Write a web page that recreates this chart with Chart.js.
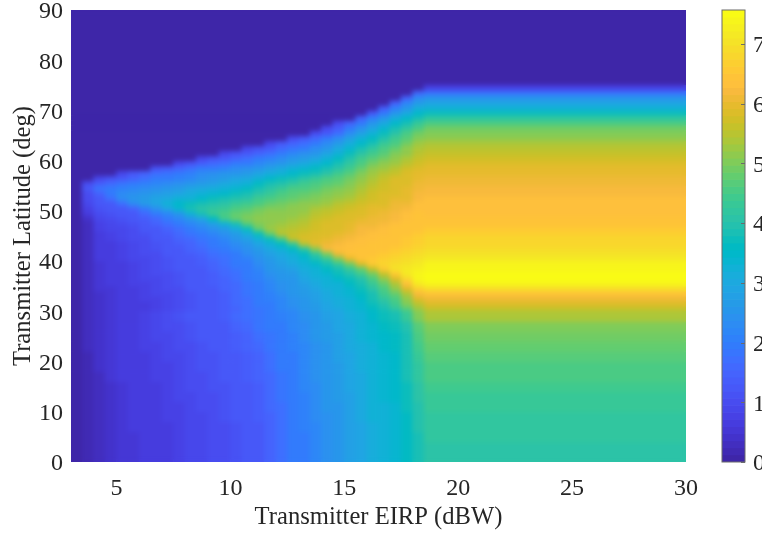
<!DOCTYPE html>
<html>
<head>
<meta charset="utf-8">
<script src="https://cdn.jsdelivr.net/npm/chart.js@4/dist/chart.umd.min.js"></script>
<style>
  body { margin: 0; background: #fff; }
  #wrap { position: relative; width: 762px; height: 533px; overflow: hidden; }
  canvas { position: absolute; top: 0; }
</style>
</head>
<body>
<div id="wrap">
  <canvas id="heat" width="762" height="533" style="left:0"></canvas>
  <canvas id="bar" width="62" height="533" style="left:700px"></canvas>
</div>
<script>
const xTicks = [5, 10, 15, 20, 25, 30];
const yTicks = [0, 10, 20, 30, 40, 50, 60, 70, 80, 90];
const colorbarTicks = [0, 1, 2, 3, 4, 5, 6, 7];
const colorMax = 7.57;

// cell edges in EIRP for the fan part of the map, then one wide plateau cell
const eirpEdges = [3.5,4,4.5,5,5.5,6,6.5,7,7.5,8,8.5,9,9.5,10,10.5,11,11.5,12,12.5,13,13.5,14,14.5,15,15.5,16,16.5,17,17.5,18,18.5];
const eirpMin = 3;
const eirpMax = 30;

// 2 deg rows, latitude 0 to 30
const lowerLats = [0,2,4,6,8,10,12,14,16,18,20,22,24,26,28];
const lowerPlateau = [4.1,4.1,4.15,4.2,4.2,4.3,4.35,4.45,4.55,4.6,4.7,4.75,4.85,5.05,5.35];
const lowerGrid = [
  [.2,.3,.4,.5,.5,.6,.7,.7,.8,.9,.9,1,1,1.1,1.2,1.3,1.5,1.7,1.9,2,2.2,2.4,2.6,2.8,2.9,3.1,3.3,3.4,3.6,3.9],
  [.2,.3,.4,.5,.5,.6,.7,.7,.8,.9,.9,1,1,1.1,1.2,1.3,1.5,1.7,1.9,2,2.2,2.4,2.6,2.8,2.9,3.1,3.3,3.4,3.6,3.9],
  [.2,.3,.4,.5,.5,.6,.7,.7,.8,.9,.9,1,1,1.1,1.2,1.3,1.5,1.7,1.9,2,2.2,2.4,2.6,2.8,2.9,3.1,3.3,3.4,3.6,3.9],
  [.2,.3,.4,.5,.6,.6,.7,.7,.8,.9,.9,1,1,1.1,1.2,1.3,1.5,1.7,1.9,2.1,2.2,2.4,2.6,2.8,2.9,3.1,3.3,3.4,3.6,4],
  [.2,.3,.4,.5,.6,.6,.7,.8,.8,.9,.9,1,1.1,1.2,1.3,1.4,1.5,1.7,1.9,2.1,2.3,2.4,2.6,2.8,3,3.2,3.3,3.4,3.6,4],
  [.2,.3,.4,.5,.6,.7,.7,.8,.8,.9,1,1,1.1,1.2,1.3,1.4,1.6,1.7,1.9,2.1,2.3,2.5,2.6,2.8,3,3.2,3.3,3.4,3.7,4],
  [.2,.3,.4,.5,.6,.7,.7,.8,.9,.9,1,1,1.1,1.2,1.3,1.4,1.6,1.8,2,2.1,2.3,2.5,2.7,2.8,3,3.2,3.4,3.5,3.7,4.1],
  [.2,.3,.4,.5,.6,.7,.7,.8,.9,1,1,1.1,1.1,1.2,1.3,1.4,1.6,1.8,2,2.2,2.3,2.5,2.7,2.9,3,3.2,3.4,3.5,3.7,4.1],
  [.2,.3,.5,.6,.6,.7,.8,.8,.9,1,1,1.1,1.2,1.3,1.4,1.5,1.6,1.8,2,2.2,2.4,2.5,2.7,2.9,3,3.2,3.4,3.5,3.8,4.2],
  [.2,.4,.5,.6,.7,.7,.8,.8,.9,1,1.1,1.1,1.2,1.3,1.4,1.5,1.7,1.9,2,2.2,2.4,2.6,2.7,2.9,3.1,3.3,3.4,3.5,3.8,4.2],
  [.2,.4,.5,.6,.7,.7,.8,.9,.9,1,1.1,1.1,1.2,1.3,1.4,1.5,1.7,1.9,2,2.2,2.4,2.6,2.8,2.9,3.1,3.3,3.4,3.5,3.8,4.3],
  [.3,.4,.5,.6,.7,.8,.8,.9,1,1,1.1,1.2,1.3,1.4,1.5,1.6,1.8,1.9,2.1,2.2,2.4,2.6,2.8,3,3.1,3.3,3.5,3.6,3.9,4.4],
  [.3,.4,.5,.6,.7,.8,.9,.9,1,1.1,1.2,1.2,1.3,1.4,1.5,1.7,1.8,2,2.1,2.3,2.5,2.7,2.8,3,3.2,3.4,3.5,3.6,3.9,4.5],
  [.3,.4,.5,.6,.7,.8,.9,1,1,1.1,1.2,1.3,1.3,1.5,1.6,1.8,1.9,2,2.2,2.3,2.5,2.7,2.9,3,3.2,3.4,3.6,3.7,4,4.7],
  [.3,.4,.5,.6,.7,.8,.9,1,1.1,1.2,1.3,1.3,1.4,1.6,1.7,1.8,1.9,2.1,2.2,2.4,2.6,2.8,2.9,3.1,3.3,3.5,3.7,3.9,4.3,5],
];

// 1 deg rows from latitude 30, rows are right aligned and everything left of a row is zero
const upperLats = [30,31,32,33,34,35,36,37,38,39,40,41,42,43,44,45,46,47,48,49,50,51,52,53,54,55,56,57,58,59,60,61,62,63,64,65,66,67,68,69,70,71,72,73,74];
const upperPlateau = [5.65,5.85,6.1,6.45,6.9,7.4,7.55,7.55,7.45,7.35,7.2,7.05,6.95,6.85,6.75,6.68,6.6,6.5,6.42,6.38,6.35,6.3,6.3,6.25,6.2,6.15,6.1,6,5.95,5.85,5.75,5.65,5.5,5.35,5.2,5.05,4.85,4.55,4.2,3.75,3.3,2.9,2.5,1.8,.8];
const upperGrid = [
  [.3,.4,.5,.6,.6,.7,.8,.9,1,1.1,1.2,1.3,1.4,1.5,1.7,1.8,2,2.2,2.3,2.5,2.7,2.9,3,3.2,3.4,3.6,3.9,4.2,4.7,5.3],
  [.3,.4,.5,.6,.7,.7,.8,.9,1,1.1,1.2,1.3,1.4,1.6,1.7,1.9,2,2.2,2.4,2.6,2.7,2.9,3.1,3.2,3.4,3.7,4,4.4,5,5.5],
  [.3,.4,.5,.6,.7,.8,.8,.9,1,1.1,1.2,1.3,1.4,1.6,1.7,1.9,2.1,2.2,2.4,2.6,2.8,3,3.1,3.3,3.5,3.8,4.2,4.6,5.2,5.8],
  [.3,.4,.5,.6,.7,.8,.9,.9,1,1.1,1.2,1.3,1.4,1.6,1.8,1.9,2.1,2.3,2.5,2.7,2.8,3,3.2,3.4,3.6,3.9,4.4,4.8,5.4,6.2],
  [.3,.5,.5,.6,.7,.8,.9,1,1,1.2,1.3,1.3,1.5,1.6,1.8,2,2.2,2.4,2.5,2.7,2.9,3.1,3.3,3.4,3.7,4.1,4.6,5.1,5.8,6.7],
  [.3,.5,.6,.7,.8,.8,.9,1,1.1,1.2,1.3,1.4,1.5,1.6,1.8,2,2.2,2.4,2.6,2.8,3,3.2,3.3,3.6,3.9,4.3,4.8,5.4,6.3,7.1],
  [.3,.5,.6,.7,.8,.9,.9,1,1.1,1.2,1.3,1.4,1.5,1.7,1.9,2.1,2.3,2.5,2.6,2.9,3.1,3.3,3.5,3.7,4,4.5,5.1,5.9,6.8,7.4],
  [.3,.5,.6,.7,.8,.9,1,1,1.1,1.2,1.3,1.4,1.6,1.7,1.9,2.1,2.4,2.6,2.7,3,3.2,3.4,3.7,4,4.4,4.9,5.6,6.6,7.1,7.4],
  [.3,.5,.6,.7,.8,.9,1,1.1,1.2,1.3,1.3,1.5,1.6,1.8,2,2.2,2.5,2.7,2.8,3.1,3.3,3.6,3.9,4.3,4.8,5.6,6.6,7,7.1,7.3],
  [.3,.5,.6,.7,.8,.9,1,1.1,1.2,1.3,1.4,1.5,1.7,1.9,2,2.3,2.6,2.8,3,3.2,3.5,3.9,4.3,4.9,5.8,6.6,6.8,6.9,7,7.2],
  [.3,.6,.6,.8,.9,.9,1,1.1,1.2,1.3,1.4,1.6,1.7,1.9,2.1,2.4,2.7,2.9,3.1,3.4,3.8,4.3,5,6,6.5,6.6,6.7,6.8,6.9,7.05],
  [.3,.6,.7,.8,.9,1,1,1.2,1.3,1.4,1.5,1.7,1.8,2,2.3,2.5,2.8,3,3.3,3.6,4.2,5,6.1,6.4,6.4,6.5,6.6,6.7,6.8,6.9],
  [.3,.6,.7,.8,.9,1,1.1,1.2,1.3,1.5,1.6,1.8,1.9,2.2,2.4,2.7,3,3.3,3.6,4.2,5.2,6.2,6.3,6.3,6.4,6.4,6.5,6.6,6.7,6.8],
  [.3,.6,.7,.8,.9,1,1.1,1.3,1.4,1.5,1.7,1.9,2.1,2.3,2.6,2.9,3.3,3.6,4.3,5.5,6,6.1,6.2,6.3,6.3,6.4,6.4,6.5,6.6,6.7],
  [.3,.7,.8,.9,1,1,1.2,1.3,1.5,1.6,1.8,2,2.2,2.5,2.8,3.2,3.7,4.6,5.6,5.8,5.9,6,6.1,6.2,6.3,6.3,6.4,6.5,6.6,6.65],
  [.3,.7,.8,.9,1,1.1,1.2,1.4,1.6,1.8,2,2.2,2.4,2.7,3.1,3.7,4.8,5.5,5.6,5.7,5.8,5.9,6,6.1,6.2,6.3,6.3,6.4,6.5,6.6],
  [.3,.8,.9,.9,1,1.2,1.3,1.5,1.7,1.9,2.2,2.4,2.7,3.1,3.7,4.8,5.3,5.4,5.5,5.6,5.7,5.9,5.9,6,6.2,6.2,6.3,6.4,6.4,6.5],
  [.3,.8,.9,1,1.1,1.3,1.5,1.7,1.9,2.2,2.4,2.8,3.2,3.9,4.7,5,5.2,5.3,5.4,5.5,5.7,5.8,5.9,6,6.1,6.1,6.2,6.3,6.4,6.45],
  [.4,.9,1,1.1,1.2,1.4,1.6,1.9,2.2,2.5,2.9,3.6,4.4,4.8,5,5.1,5.2,5.2,5.3,5.4,5.6,5.7,5.8,5.9,6,6.1,6.1,6.2,6.3,6.4],
  [.6,1,1.1,1.2,1.3,1.6,1.9,2.2,2.6,3.2,3.9,4.3,4.6,4.8,4.9,5,5.1,5.1,5.2,5.3,5.5,5.6,5.7,5.8,5.9,6,6.1,6.2,6.3,6.4],
  [.8,1.1,1.2,1.3,1.5,1.9,2.4,2.9,3.4,3.8,4.1,4.2,4.3,4.5,4.7,4.9,5,5,5.1,5.2,5.4,5.5,5.6,5.7,5.8,6,6,6.1,6.2,6.3],
  [.9,1.2,1.3,1.7,2.3,2.7,2.9,3.2,3.5,3.7,3.9,4,4.1,4.3,4.4,4.6,4.8,4.9,5,5.1,5.2,5.3,5.5,5.6,5.7,5.8,5.9,6.1,6.1,6.3],
  [1,1.3,1.7,2.3,2.5,2.7,2.9,3,3.2,3.3,3.5,3.7,3.8,4,4.1,4.4,4.6,4.7,4.8,4.9,5,5.2,5.3,5.4,5.6,5.7,5.8,6,6,6.2],
  [1,1.5,2,2.3,2.4,2.5,2.7,2.8,2.9,3.1,3.2,3.4,3.5,3.7,3.8,4.1,4.3,4.5,4.7,4.8,4.9,5,5.1,5.3,5.5,5.7,5.8,5.9,6,6.2],
  [1.2,1.8,2,2.1,2.2,2.3,2.4,2.6,2.7,2.9,3,3.1,3.2,3.4,3.6,3.9,4.1,4.3,4.5,4.6,4.7,4.9,5,5.2,5.4,5.6,5.7,5.8,6,6.1],
  [1,1.4,1.6,1.8,1.9,2.1,2.2,2.3,2.4,2.5,2.7,2.8,3,3.1,3.3,3.6,3.8,4,4.2,4.4,4.5,4.7,4.8,5,5.3,5.5,5.7,5.8,5.9,6.1],
  [.9,1.1,1.3,1.5,1.7,1.9,2,2.1,2.2,2.4,2.5,2.7,2.9,3,3.3,3.5,3.7,3.9,4.1,4.3,4.5,4.7,4.9,5.1,5.4,5.6,5.8,5.9,6],
  [.9,1.3,1.5,1.7,1.8,2,2.1,2.3,2.4,2.5,2.6,2.7,2.9,3.1,3.3,3.5,3.7,3.9,4.1,4.4,4.7,5,5.3,5.5,5.6,5.8,5.95],
  [1.1,1.3,1.5,1.7,1.9,2,2.1,2.3,2.4,2.6,2.8,3,3.2,3.4,3.6,3.8,4.1,4.4,4.8,5.1,5.3,5.5,5.7,5.85],
  [.9,1.1,1.4,1.6,1.7,1.9,2,2.2,2.4,2.6,2.8,3,3.2,3.5,3.8,4.2,4.6,4.9,5.1,5.3,5.5,5.75],
  [.9,1.1,1.3,1.5,1.7,1.9,2.1,2.3,2.5,2.7,2.9,3.2,3.6,4,4.4,4.7,4.9,5.2,5.4,5.65],
  [.9,1.1,1.3,1.5,1.7,1.9,2.2,2.4,2.6,2.9,3.3,3.7,4.1,4.4,4.7,5,5.2,5.55],
  [.9,1.1,1.3,1.6,1.8,2,2.3,2.6,3,3.4,3.8,4.2,4.5,4.8,5.1,5.4],
  [.9,1.2,1.5,1.7,2,2.3,2.7,3.1,3.5,3.9,4.3,4.6,4.9,5.25],
  [1,1.3,1.6,1.9,2.3,2.8,3.2,3.6,4,4.4,4.7,5.05],
  [1,1.3,1.7,2.3,2.8,3.2,3.7,4.1,4.5,4.85],
  [1,1.4,1.9,2.4,2.9,3.4,3.8,4.2,4.6],
  [1,1.5,2,2.5,3,3.5,3.9,4.3],
  [1.5,2.1,2.6,3.1,3.5,3.9],
  [1.3,2,2.6,3,3.5],
  [1.4,2.1,2.6,3.1],
  [1.5,2.2,2.7],
  [1.5,2.3],
  [1.6],
  [],
];

// rows above the fan, all zero
const topLats = [75,76,77,78,79,80,81,82,83,84,85,86,87,88,89];

const parula = ['#3e26a8','#402ab4','#422ebf','#4332cb','#4537d5','#463cde','#4741e5','#4747eb','#484cf0','#4752f4','#4758f8','#465dfb','#4563fd','#4269fe','#3e6fff','#3875fe','#327bfc','#2f81fa','#2d87f7','#2d8cf3','#2b91ef','#2796eb','#259be7','#23a0e5','#20a5e3','#1ca9df','#18addb','#11b1d6','#08b5d0','#01b8ca','#02bac3','#0bbdbc','#19bfb5','#24c1ae','#2cc3a7','#31c69f','#37c897','#3fca8e','#4acb84','#57cc7a','#63cd6f','#71cc64','#80cc59','#8fca4e','#9dc943','#acc739','#b9c431','#c5c22a','#d1bf27','#dcbd29','#e6bb2d','#efba36','#f8ba3d','#fec03c','#fec338','#fec934','#fccf30','#f9d62d','#f7dc2a','#f5e327','#f5e924','#f6ef20','#f7f51b','#f9fb15'];

function colorFor(v) {
  const i = Math.floor(v / colorMax * parula.length);
  return parula[Math.min(Math.max(i, 0), parula.length - 1)];
}

function rowCells(row, plateau, lat) {
  const first = eirpEdges.length - 1 - row.length;
  const cells = [{ y: lat, x: [eirpMin, eirpEdges[first]], v: 0 }];
  row.forEach((v, i) => {
    cells.push({ y: lat, x: [eirpEdges[first + i], eirpEdges[first + i + 1]], v: v });
  });
  cells.push({ y: lat, x: [eirpEdges[eirpEdges.length - 1], eirpMax], v: plateau });
  return cells;
}

const lowerCells = lowerGrid.flatMap((row, i) => rowCells(row, lowerPlateau[i], lowerLats[i] + 1));
const upperCells = upperGrid.flatMap((row, i) => rowCells(row, upperPlateau[i], upperLats[i] + 0.5));
const topCells = topLats.map(lat => ({ y: lat + 0.5, x: [eirpMin, eirpMax], v: 0 }));

const textColor = '#262626';
const serif = 'Liberation Serif';
const tickFont = { family: serif, size: 24 };
const titleFont = { family: serif, size: 24.6 };

// soften the cell edges the way the reference image is smoothed
const smoothMap = {
  id: 'smoothMap',
  afterDatasetsDraw(chart) {
    const { ctx, chartArea: a } = chart;
    ctx.save();
    ctx.beginPath();
    ctx.rect(a.left, a.top, a.width, a.height);
    ctx.clip();
    ctx.filter = 'blur(2.5px)';
    ctx.drawImage(ctx.canvas, a.left, a.top, a.width, a.height, a.left, a.top, a.width, a.height);
    ctx.restore();
  },
};

new Chart(document.getElementById('heat'), {
  type: 'bar',
  data: {
    datasets: [
      { data: lowerCells, barThickness: 10.05 },
      { data: upperCells, barThickness: 5.03 },
      { data: topCells, barThickness: 5.03 },
    ],
  },
  plugins: [smoothMap],
  options: {
    responsive: false,
    animation: false,
    indexAxis: 'y',
    layout: { padding: { top: 10, right: 76, bottom: 0, left: 0 } },
    datasets: { bar: { grouped: false } },
    elements: {
      bar: {
        borderWidth: 0,
        backgroundColor: ctx => colorFor(ctx.raw.v),
      },
    },
    plugins: { legend: { display: false }, tooltip: { enabled: false } },
    scales: {
      x: {
        type: 'linear',
        offset: false,
        min: eirpMin,
        max: eirpMax,
        afterBuildTicks: s => { s.ticks = xTicks.map(v => ({ value: v })); },
        afterFit: s => { s.height = 71; },
        grid: { display: false, drawTicks: false },
        border: { display: false },
        ticks: { color: textColor, font: tickFont, padding: 12, maxRotation: 0 },
        title: { display: true, text: 'Transmitter EIRP (dBW)', color: textColor, font: titleFont, padding: { top: 2, bottom: 1 } },
      },
      y: {
        type: 'linear',
        offset: false,
        min: 0,
        max: 90,
        afterBuildTicks: s => { s.ticks = yTicks.map(v => ({ value: v })); },
        afterFit: s => { s.width = 71; s.paddingTop = 0; s.paddingBottom = 0; },
        grid: { display: false, drawTicks: false },
        border: { display: false },
        ticks: { color: textColor, font: tickFont, padding: 8, labelOffset: 2 },
        title: { display: true, text: 'Transmitter Latitude (deg)', color: textColor, font: titleFont, padding: { top: 9, bottom: 0 } },
      },
    },
  },
});

// colorbar frame and its short inward ticks
const barFrame = {
  id: 'barFrame',
  afterDatasetsDraw(chart) {
    const { ctx, chartArea: a, scales } = chart;
    ctx.save();
    ctx.strokeStyle = '#6b6b6b';
    ctx.lineWidth = 1;
    ctx.strokeRect(a.left, a.top, a.width, a.height);
    colorbarTicks.forEach(v => {
      const y = Math.round(scales.y.getPixelForValue(v)) + 0.5;
      ctx.beginPath();
      ctx.moveTo(a.right - 4, y);
      ctx.lineTo(a.right, y);
      ctx.stroke();
    });
    ctx.restore();
  },
};

new Chart(document.getElementById('bar'), {
  type: 'bar',
  data: {
    labels: ['c'],
    datasets: [{
      data: parula.map((c, i) => ({ x: 'c', y: [i / parula.length * colorMax, (i + 1) / parula.length * colorMax] })),
      backgroundColor: parula,
      barPercentage: 1,
      categoryPercentage: 1,
      borderWidth: 0,
    }],
  },
  plugins: [barFrame],
  options: {
    responsive: false,
    animation: false,
    layout: { padding: { top: 10, right: 0, bottom: 71, left: 22 } },
    plugins: { legend: { display: false }, tooltip: { enabled: false } },
    scales: {
      x: { display: false },
      y: {
        position: 'right',
        min: 0,
        max: colorMax,
        afterBuildTicks: s => { s.ticks = colorbarTicks.map(v => ({ value: v })); },
        afterFit: s => { s.width = 17; s.paddingTop = 0; s.paddingBottom = 0; },
        grid: { display: false, drawTicks: false },
        border: { display: false },
        ticks: { color: textColor, font: tickFont, padding: 8, labelOffset: 2 },
      },
    },
  },
});
</script>
</body>
</html>
